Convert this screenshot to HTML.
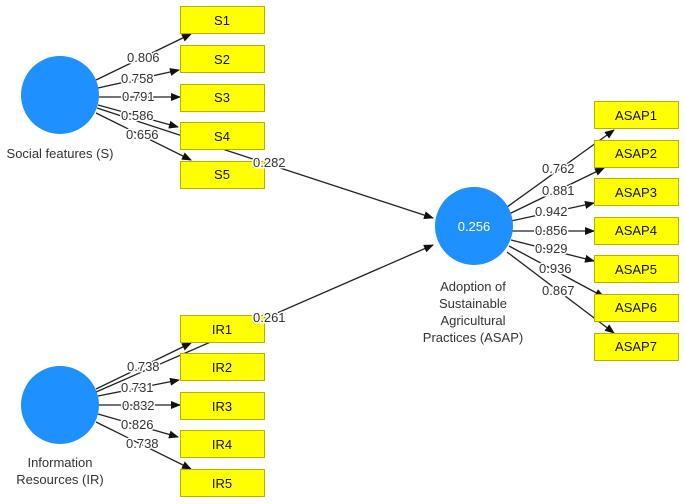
<!DOCTYPE html>
<html><head><meta charset="utf-8"><style>
html,body{margin:0;padding:0;background:#fff;}
svg{display:block;font-family:"Liberation Sans",sans-serif;}
.l{stroke:#222;stroke-width:1.3;fill:none;marker-end:url(#a);}
.t{font-size:13px;fill:#333;stroke:#fff;stroke-width:3px;paint-order:stroke;}
.b{fill:#ffff00;stroke:#b5b500;stroke-width:1;}
.bt{font-size:13px;fill:#111;text-anchor:middle;}
.c{font-size:13px;fill:#333;text-anchor:middle;}
</style></head><body>
<svg width="685" height="504" viewBox="0 0 685 504">
<defs><marker id="a" markerWidth="10" markerHeight="8" refX="9" refY="4" orient="auto" markerUnits="userSpaceOnUse"><path d="M0,0 L10,4 L0,8 Z" fill="#111"/></marker></defs>
<line class="l" x1="96" y1="80" x2="191" y2="34"/>
<line class="l" x1="98" y1="88" x2="179" y2="70"/>
<line class="l" x1="99" y1="97" x2="180" y2="97"/>
<line class="l" x1="98" y1="105" x2="178" y2="127"/>
<line class="l" x1="96" y1="113" x2="191" y2="160"/>
<line class="l" x1="97" y1="108" x2="433" y2="218"/>
<line class="l" x1="96" y1="389" x2="191" y2="343"/>
<line class="l" x1="98" y1="396" x2="179" y2="380"/>
<line class="l" x1="99" y1="405" x2="180" y2="405"/>
<line class="l" x1="98" y1="414" x2="178" y2="437"/>
<line class="l" x1="96" y1="422" x2="191" y2="469"/>
<line class="l" x1="96" y1="392" x2="433" y2="245"/>
<line class="l" x1="507" y1="207" x2="614" y2="130"/>
<line class="l" x1="509" y1="214" x2="604" y2="168"/>
<line class="l" x1="511" y1="221" x2="594" y2="203"/>
<line class="l" x1="512" y1="231" x2="594" y2="231"/>
<line class="l" x1="511" y1="240" x2="594" y2="261"/>
<line class="l" x1="509" y1="246" x2="604" y2="297"/>
<line class="l" x1="507" y1="252" x2="614" y2="333"/>
<circle cx="60" cy="95" r="39" fill="#1e90ff"/>
<circle cx="60" cy="405" r="39" fill="#1e90ff"/>
<circle cx="474" cy="226" r="39" fill="#1e90ff"/>
<text x="474" y="231" font-size="13" fill="#fff" text-anchor="middle">0.256</text>
<text class="c" x="60" y="158">Social features (S)</text>
<text class="c" x="60" y="467">Information</text>
<text class="c" x="60" y="484">Resources (IR)</text>
<text class="c" x="473" y="291">Adoption of</text>
<text class="c" x="473" y="308">Sustainable</text>
<text class="c" x="473" y="325">Agricultural</text>
<text class="c" x="473" y="342">Practices (ASAP)</text>
<g>
<rect class="b" x="180.5" y="6.5" width="84" height="27"/><text class="bt" x="222" y="25">S1</text>
<rect class="b" x="180.5" y="45.5" width="84" height="27"/><text class="bt" x="222" y="64">S2</text>
<rect class="b" x="180.5" y="84.5" width="84" height="27"/><text class="bt" x="222" y="102">S3</text>
<rect class="b" x="180.5" y="122.5" width="84" height="27"/><text class="bt" x="222" y="141">S4</text>
<rect class="b" x="180.5" y="161.5" width="84" height="27"/><text class="bt" x="222" y="179">S5</text>
<rect class="b" x="180.5" y="315.5" width="84" height="27"/><text class="bt" x="222" y="334">IR1</text>
<rect class="b" x="180.5" y="353.5" width="84" height="27"/><text class="bt" x="222" y="372">IR2</text>
<rect class="b" x="180.5" y="392.5" width="84" height="27"/><text class="bt" x="222" y="411">IR3</text>
<rect class="b" x="180.5" y="430.5" width="84" height="27"/><text class="bt" x="222" y="449">IR4</text>
<rect class="b" x="180.5" y="469.5" width="84" height="27"/><text class="bt" x="222" y="488">IR5</text>
<rect class="b" x="594.5" y="101.5" width="84" height="27"/><text class="bt" x="636" y="120">ASAP1</text>
<rect class="b" x="594.5" y="140.5" width="84" height="27"/><text class="bt" x="636" y="158">ASAP2</text>
<rect class="b" x="594.5" y="178.5" width="84" height="27"/><text class="bt" x="636" y="197">ASAP3</text>
<rect class="b" x="594.5" y="217.5" width="84" height="27"/><text class="bt" x="636" y="235">ASAP4</text>
<rect class="b" x="594.5" y="255.5" width="84" height="27"/><text class="bt" x="636" y="274">ASAP5</text>
<rect class="b" x="594.5" y="294.5" width="84" height="27"/><text class="bt" x="636" y="312">ASAP6</text>
<rect class="b" x="594.5" y="333.5" width="84" height="27"/><text class="bt" x="636" y="351">ASAP7</text>
</g>
<text class="t" x="127" y="62">0.806</text>
<text class="t" x="121" y="83">0.758</text>
<text class="t" x="122" y="101">0.791</text>
<text class="t" x="121" y="120">0.586</text>
<text class="t" x="126" y="139">0.656</text>
<text class="t" x="253" y="167">0.282</text>
<text class="t" x="253" y="322">0.261</text>
<text class="t" x="127" y="371">0.738</text>
<text class="t" x="121" y="392">0.731</text>
<text class="t" x="122" y="410">0.832</text>
<text class="t" x="121" y="429">0.826</text>
<text class="t" x="126" y="448">0.738</text>
<text class="t" x="542" y="173">0.762</text>
<text class="t" x="542" y="195">0.881</text>
<text class="t" x="535" y="216">0.942</text>
<text class="t" x="535" y="235">0.856</text>
<text class="t" x="535" y="253">0.929</text>
<text class="t" x="539" y="273">0.936</text>
<text class="t" x="542" y="295">0.867</text>
</svg>
</body></html>
